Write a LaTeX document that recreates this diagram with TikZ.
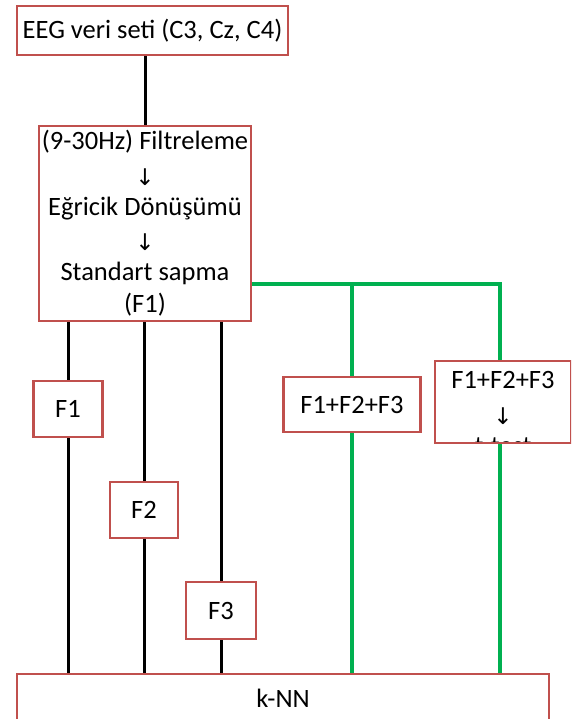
\documentclass[tikz,border=0pt]{standalone}
\usepackage{fontspec}
\setmainfont{Carlito}
\newfontfamily\arrowfamily{DejaVu Sans}
\definecolor{boxred}{RGB}{192,80,77}
\definecolor{lgreen}{RGB}{0,176,80}
\newcommand\myDownArrow{\raisebox{-3pt}{\arrowfamily\fontsize{23}{23}\selectfont ↓}}
\begin{document}
\begin{tikzpicture}[x=1pt,y=-1pt,
  txt/.style={font=\fontsize{26.5}{32.6}\selectfont, align=center},
  box/.style={txt, draw=boxred, line width=2.5pt, fill=white, inner sep=0pt},
  blk/.style={draw=black, line width=3pt},
  grn/.style={draw=lgreen, line width=4pt},
]
\useasboundingbox (0,0) rectangle (571,719);
\clip (0,0) rectangle (571,719);

\node[box, minimum width=271pt, minimum height=49pt] (eeg) at (152.5,30.5) {EEG veri seti (C3, Cz, C4)};
\node[box, minimum width=212pt, minimum height=195pt] (proc) at (145,223.5)
  {(9-30Hz) Filtreleme\\ \myDownArrow\\ Eğricik Dönüşümü\\ \myDownArrow\\ Standart sapma\\ (F1)};
\node[box, minimum width=69pt, minimum height=56pt] (f1) at (68,409) {F1};
\node[box, minimum width=68pt, minimum height=56pt] (f2) at (144,510) {F2};
\node[box, minimum width=70pt, minimum height=57pt] (f3) at (221,610.5) {F3};
\node[box, minimum width=137pt, minimum height=55pt] (fs) at (352,404.5) {F1+F2+F3};
\node[box, minimum width=136pt, minimum height=82pt,
  path picture={\node[txt, inner sep=0pt, anchor=north] (ttx) at ([yshift=-9.5pt]path picture bounding box.north) {F1+F2+F3\\ \myDownArrow\\ t-test};}]
  (tt) at (503,402) {};
\node[box, minimum width=532pt, minimum height=49pt] (knn) at (283,698.5) {k-NN};

\draw[blk] (eeg.south -| proc.north) -- (proc.north);
\draw[blk] (proc.south -| f1.north) -- (f1.north);
\draw[blk] (f1.south) -- (f1.south |- knn.north);
\draw[blk] (proc.south -| f2.north) -- (f2.north);
\draw[blk] (f2.south) -- (f2.south |- knn.north);
\draw[blk] (proc.south -| f3.north) -- (f3.north);
\draw[blk] (f3.south) -- (f3.south |- knn.north);

\coordinate (gc) at (500,284);
\draw[grn] (proc.east |- gc) -- (gc) -- (gc |- tt.north);
\draw[grn] (tt.south -| gc) -- (gc |- knn.north);
\draw[grn] (fs.north |- gc) -- (fs.north);
\draw[grn] (fs.south) -- (fs.south |- knn.north);
\end{tikzpicture}
\end{document}
